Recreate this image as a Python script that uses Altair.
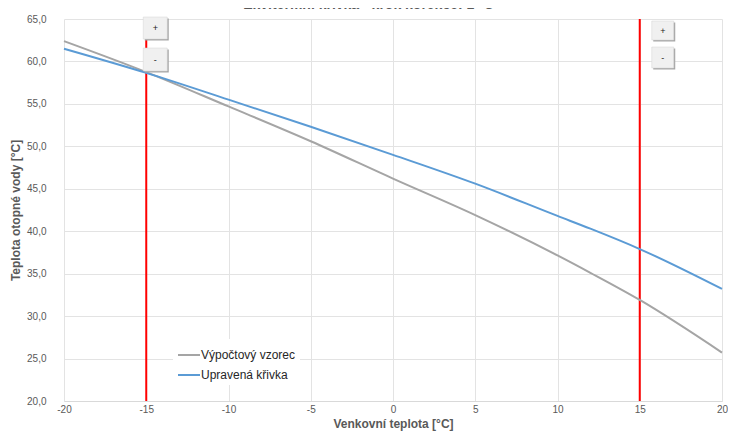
import altair as alt
import pandas as pd

# ---- data ----
temps = [-20, -15, -10, -5, 0, 5, 10, 12, 15, 20]
vypoctovy = [62.4, 58.75, 54.7, 50.6, 46.2, 41.9, 37.15, 35.1, 31.9, 25.7]
upravena = [61.5, 58.65, 55.5, 52.3, 49.0, 45.6, 41.8, 40.3, 37.9, 33.2]
series_names = ["Výpočtový vzorec", "Upravená křivka"]
series_colors = ["#a5a5a5", "#5b9bd5"]
markers = [-15, 15]
button_labels = ["+", "-"]
x_ticks = [-20, -15, -10, -5, 0, 5, 10, 15, 20]
y_ticks = [20, 25, 30, 35, 40, 45, 50, 55, 60, 65]
title_text = "Ekvitermní křivka - krok korekce: 1 °C"

FONT = "Liberation Sans"
TXT = "#595959"

df = pd.DataFrame({
    "t": temps * 2,
    "v": vypoctovy + upravena,
    "s": [series_names[0]] * len(temps) + [series_names[1]] * len(temps),
})
mk = pd.DataFrame({"t": markers})

xscale = alt.Scale(domain=[-20, 20], nice=False)
yscale = alt.Scale(domain=[20, 65], nice=False, zero=False)

x_enc = alt.X("t:Q", scale=xscale, title="Venkovní teplota [°C]",
              axis=alt.Axis(values=x_ticks, labelPadding=3, titlePadding=4,
                            labelFlush=False, labelExpr="'' + datum.value",
                            domain=True, domainColor="#d9d9d9"))
y_enc = alt.Y("v:Q", scale=yscale, title="Teplota otopné vody [°C]",
              axis=alt.Axis(values=y_ticks, domain=False, labelPadding=18, titlePadding=4,
                            labelFlush=False,
                            labelExpr="replace(format(datum.value, '.1f'), '.', ',')"))

lines = alt.Chart(df).mark_line(strokeWidth=2, interpolate="monotone").encode(
    x=x_enc,
    y=y_enc,
    color=alt.Color("s:N", scale=alt.Scale(domain=series_names, range=series_colors),
                    legend=alt.Legend(title=None, orient="none", legendX=109, legendY=320,
                                      symbolType="stroke", symbolSize=484, symbolStrokeWidth=2,
                                      labelFontSize=12, labelColor="#262626", labelFont=FONT,
                                      labelOffset=0, rowPadding=2, padding=4,
                                      fillColor="white")),
    order=alt.Order("s:N"),
)

rules = alt.Chart(mk).mark_rule(color="#ff0000", strokeWidth=2).encode(
    x=alt.X("t:Q", scale=xscale)
)

def buttons(value, dx1, dx2, ys):
    d = pd.DataFrame({"t": [value]})
    layers = []
    for lab, (y1, y2) in zip(button_labels, ys):
        shadow = alt.Chart(d).mark_rect(fill="#a6a6a6", xOffset=dx1 + 1.5, x2Offset=dx2 + 1.5,
                                         yOffset=1.5, y2Offset=1.5).encode(
            x=alt.X("t:Q", scale=xscale), x2="t", y=alt.value(y1), y2=alt.value(y2))
        face = alt.Chart(d).mark_rect(fill="#f0f0f0", stroke="#d4d4d4", strokeWidth=0.5,
                                       xOffset=dx1, x2Offset=dx2).encode(
            x=alt.X("t:Q", scale=xscale), x2="t", y=alt.value(y1), y2=alt.value(y2))
        txt = alt.Chart(d).mark_text(text=lab, font=FONT, fontSize=9, color="#222222",
                                      xOffset=(dx1 + dx2) / 2, baseline="middle").encode(
            x=alt.X("t:Q", scale=xscale), y=alt.value((y1 + y2) / 2))
        layers += [shadow, face, txt]
    return layers

left_btn = buttons(markers[0], -3, 21, [(-2, 20), (29, 52)])
right_btn = buttons(markers[1], 12, 34, [(2, 21), (28, 49)])

chart = alt.layer(rules, lines, *left_btn, *right_btn).properties(
    width=658, height=382,
    autosize=alt.AutoSizeParams(type="none"),
    padding={"left": 56, "top": 11, "right": 6, "bottom": 33},
    title=alt.TitleParams(title_text, font=FONT, fontSize=14, fontWeight="bold",
                          color=TXT, anchor="middle", frame="bounds", offset=2),
).configure_view(stroke=None).configure_axis(
    labelFont=FONT, labelFontSize=10, labelColor=TXT,
    titleFont=FONT, titleFontSize=12, titleFontWeight="bold", titleColor=TXT,
    ticks=False, gridColor="#e3e3e3", gridWidth=1,
)

chart.save("out.html", embed_options={"renderer": "svg", "actions": False})
